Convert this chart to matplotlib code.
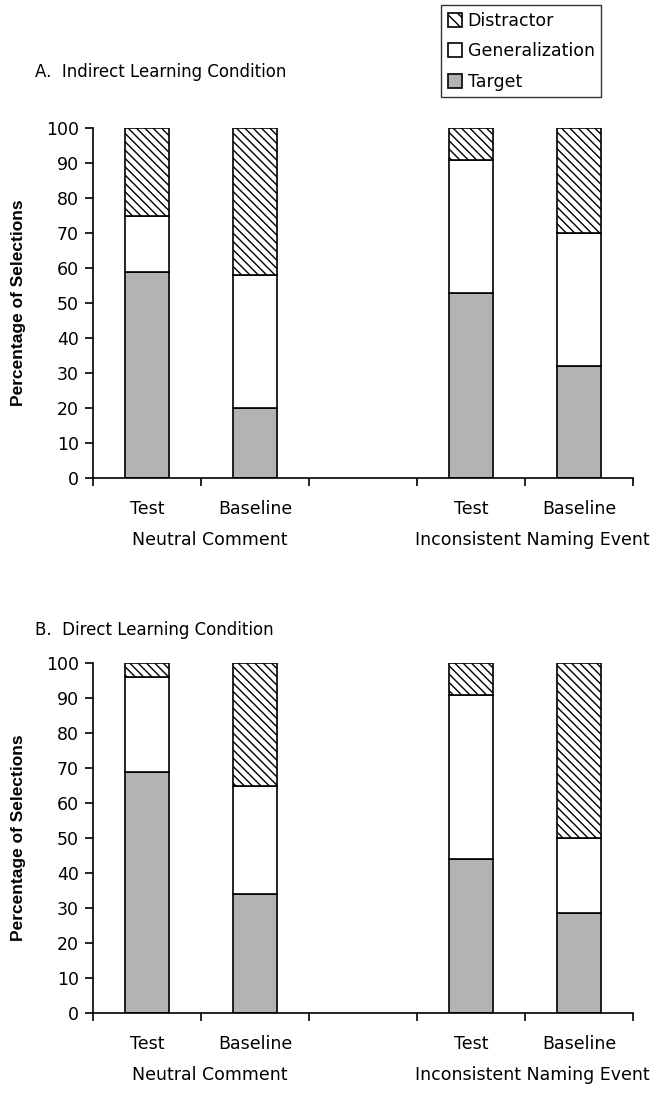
import matplotlib
matplotlib.use("Agg")
import matplotlib.pyplot as plt
from matplotlib.patches import Patch
from matplotlib.transforms import blended_transform_factory

# ---- data ----
conditions = ["Test", "Baseline", "Test", "Baseline"]
groups = ["Neutral Comment", "Inconsistent Naming Event"]
series = ["Target", "Generalization", "Distractor"]

# Panel A: Indirect learning condition
a_target = [59, 20, 53, 32]
a_general = [16, 38, 38, 38]
a_distract = [25, 42, 9, 30]

# Panel B: Direct learning condition
b_target = [69, 34, 44, 28.5]
b_general = [27, 31, 47, 21.5]
b_distract = [4, 35, 9, 50]

yticks = list(range(0, 101, 10))
panel_titles = ["A.  Indirect Learning Condition", "B.  Direct Learning Condition"]

plt.rcParams["font.family"] = ["DejaVu Sans"]
plt.rcParams["hatch.linewidth"] = 1.0

W, H = 665, 1108
fig = plt.figure(figsize=(W / 100, H / 100), dpi=100)

slots = [0, 1, 3, 4]  # slot 2 left empty between groups
centers = [s + 0.5 for s in slots]
group_centers = [1.08, 4.07]
bar_w = 0.4
gray = "#b3b3b3"
fs = 12.5

def make_panel(top_px, tgt, gen, dis, title, title_y_px):
    left_px, right_px = 93, 633
    bottom_px = top_px + 350
    ax = fig.add_axes([left_px / W, 1 - bottom_px / H,
                       (right_px - left_px) / W, 350 / H])
    ax.bar(centers, tgt, bar_w, color=gray, edgecolor="black", linewidth=1.2)
    ax.bar(centers, gen, bar_w, bottom=tgt, color="white", edgecolor="black", linewidth=1.2)
    b3 = [t + g for t, g in zip(tgt, gen)]
    ax.bar(centers, dis, bar_w, bottom=b3, color="white", edgecolor="black",
           linewidth=1.2, hatch="\\\\\\\\")
    ax.set_xlim(0, 5)
    ax.set_ylim(0, 100)
    for s in ["top", "right"]:
        ax.spines[s].set_visible(False)
    ax.spines["left"].set_linewidth(1.2)
    ax.spines["bottom"].set_linewidth(1.2)
    ax.set_yticks(yticks)
    ax.set_yticklabels([str(v) for v in yticks], fontsize=fs)
    ax.tick_params(axis="y", direction="out", length=6, width=1.2, pad=4)
    ax.set_xticks(centers)
    ax.set_xticklabels(conditions, fontsize=fs)
    ax.tick_params(axis="x", which="major", length=0, pad=16)
    ax.set_xticks([0, 1, 2, 3, 4, 5], minor=True)
    ax.tick_params(axis="x", which="minor", direction="out", length=6, width=1.2)
    ax.set_ylabel("Percentage of Selections", fontsize=12.5, fontweight="bold",
                  family=["Liberation Sans", "DejaVu Sans"])
    ax.yaxis.set_label_coords(-0.124, 0.5)
    tr = blended_transform_factory(ax.transData, ax.transAxes)
    gy = -62 / 350
    for gc, g in zip(group_centers, groups):
        ax.text(gc, gy, g, transform=tr, ha="center", va="center", fontsize=fs)
    fig.text(35 / W, 1 - title_y_px / H, title, ha="left", va="center", fontsize=12)
    return ax

make_panel(128, a_target, a_general, a_distract, panel_titles[0], 72)
make_panel(663, b_target, b_general, b_distract, panel_titles[1], 630)

handles = [
    Patch(facecolor="white", edgecolor="black", hatch="\\\\\\", linewidth=1.2, label=series[2]),
    Patch(facecolor="white", edgecolor="black", linewidth=1.2, label=series[1]),
    Patch(facecolor=gray, edgecolor="black", linewidth=1.2, label=series[0]),
]
leg = fig.legend(handles=handles, loc="upper left",
                 bbox_to_anchor=(441 / W, 1 - 5 / H), borderaxespad=0,
                 fontsize=fs, handlelength=0.85, handleheight=0.85,
                 handletextpad=0.3, labelspacing=0.72, borderpad=0.38,
                 fancybox=False, frameon=True, edgecolor="black")
leg.get_frame().set_linewidth(1.0)

fig.savefig("out.png", dpi=100)
